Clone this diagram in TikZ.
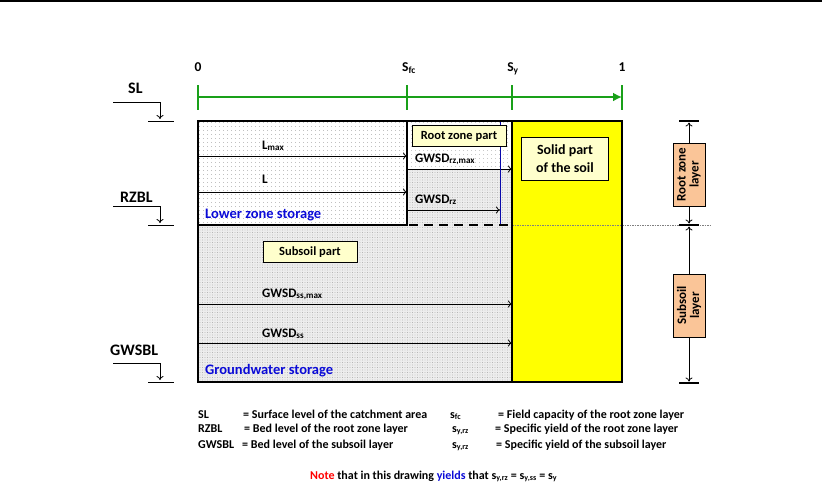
\documentclass[tikz,border=0pt]{standalone}
\usepackage{fontspec}
\setmainfont{Carlito}
\usetikzlibrary{arrows.meta,patterns.meta}
\definecolor{axisgreen}{RGB}{25,160,25}
\definecolor{tagyellow}{RGB}{255,255,204}
\definecolor{soilyellow}{RGB}{255,255,0}
\definecolor{layertan}{RGB}{250,197,152}
\definecolor{storeblue}{RGB}{10,10,215}
\begin{document}
\begin{tikzpicture}[x=1pt,y=-1pt,
  every node/.style={font=\bfseries\fontsize{12}{14}\selectfont},
  tag/.style={draw,fill=tagyellow,inner sep=3pt,align=center,font=\bfseries\fontsize{12.5}{15}\selectfont},
  layerbox/.style={draw,fill=layertan,rotate=90,align=center,minimum width=63pt,minimum height=32pt,inner sep=1pt,font=\bfseries\fontsize{13}{13}\selectfont},
  level/.style={anchor=base west,inner sep=0pt,font=\bfseries\fontsize{16}{18}\selectfont},
  store/.style={anchor=base west,inner sep=0pt,text=storeblue,font=\bfseries\fontsize{14.5}{16}\selectfont},
  flowlabel/.style={anchor=base west,inner sep=0pt,font=\bfseries\fontsize{13}{15}\selectfont},
  legend/.style={anchor=base west,inner sep=0pt},
  flow/.style={-{To[length=4pt,width=7pt]},line width=0.8pt},
  axis/.style={axisgreen,line width=2.4pt},
  drop/.style={-{To[length=4pt,width=7pt]},line width=0.8pt},
  bar/.style={line width=2.5pt},
  wall/.style={line width=2.6pt}]
\useasboundingbox (0,0) rectangle (822,490);
\draw[line width=1.5pt] (0,1) -- (822,1);

% fills
\fill[pattern={Dots[distance=4pt,radius=0.45pt]},pattern color=gray] (198,121) rectangle (407,225);
\fill[pattern={Dots[distance=4pt,radius=0.45pt]},pattern color=gray] (407,121) rectangle (512,169);
\fill[gray!14] (407,169) rectangle (512,225);
\fill[pattern={Dots[distance=2.5pt,radius=0.45pt]},pattern color=gray!80] (407,169) rectangle (512,225);
\fill[gray!14] (198,225) rectangle (512,382);
\fill[pattern={Dots[distance=2.5pt,radius=0.45pt]},pattern color=gray!80] (198,225) rectangle (512,382);
\fill[soilyellow] (512,121) rectangle (622,382);

% axis
\coordinate (a0) at (198,97);
\coordinate (afc) at (407,97);
\coordinate (ay) at (512,97);
\coordinate (a1) at (622,97);
\draw[axis,-{Latex[length=9pt,width=9pt]}] (a0) -- (a1);
\foreach \p in {a0,afc,ay,a1}
  \draw[axis] ([yshift=-12.5pt]\p) -- ([yshift=12.5pt]\p);
\node[anchor=base,font=\bfseries\fontsize{13.5}{15}\selectfont] (lab0) at (198,71) {0};
\node[anchor=base,font=\bfseries\fontsize{13.5}{15}\selectfont] (labfc) at (409,71) {S\textsubscript{fc}};
\node[anchor=base,font=\bfseries\fontsize{13.5}{15}\selectfont] (laby) at (513,71) {S\textsubscript{y}};
\node[anchor=base,font=\bfseries\fontsize{13.5}{15}\selectfont] (lab1) at (622,71) {1};

% flows
\coordinate (lmaxA) at (198,156);
\coordinate (lmaxB) at (407,156);
\coordinate (lA) at (198,192);
\coordinate (lB) at (407,192);
\coordinate (rzmaxA) at (407,169);
\coordinate (rzmaxB) at (512,169);
\coordinate (rzA) at (407,210);
\coordinate (rzB) at (500,210);
\coordinate (ssmaxA) at (198,304);
\coordinate (ssmaxB) at (512,304);
\coordinate (ssA) at (198,343);
\coordinate (ssB) at (512,343);
\draw[flow] (lmaxA) -- (lmaxB);
\draw[flow] (lA) -- (lB);
\draw[flow] (rzmaxA) -- (rzmaxB);
\draw[flow] (rzA) -- (rzB);
\draw[flow] (ssmaxA) -- (ssmaxB);
\draw[flow] (ssA) -- (ssB);
\node[flowlabel] (lmax) at (262,149) {L\textsubscript{max}};
\node[flowlabel] (l) at (262,183) {L};
\node[flowlabel] (gwsdrzmax) at (415,162) {GWSD\textsubscript{rz,max}};
\node[flowlabel] (gwsdrz) at (415,203) {GWSD\textsubscript{rz}};
\node[flowlabel] (gwsdssmax) at (262,297) {GWSD\textsubscript{ss,max}};
\node[flowlabel] (gwsdss) at (262,337) {GWSD\textsubscript{ss}};

% walls
\draw[storeblue!80!black,line width=0.8pt] (500,121) -- (500,225);
\draw[gray,line width=0.5pt,dash pattern=on 1.5pt off 1pt] (512,225) -- (710,225);
\draw[wall] (198,121) rectangle (622,382);
\draw[wall] (512,121) -- (512,382);
\draw[wall] (198,225) -- (407,225) -- (407,121);
\draw[wall,dash pattern=on 9pt off 6pt] (409,225) -- (512,225);

% tags
\node[tag,minimum width=94pt,minimum height=21pt] (rootpart) at (459,136) {Root zone part};
\node[tag,minimum width=87pt,minimum height=43pt,font=\bfseries\fontsize{14}{18}\selectfont] (solid) at (565,159) {Solid part\\of the soil};
\node[tag,minimum width=94pt,minimum height=21pt] (subpart) at (310,252) {Subsoil part};
\node[store] (lowstore) at (205,218) {Lower zone storage};
\node[store] (gwstore) at (205,374) {Groundwater storage};

% levels on the left
\node[level] (sl) at (128,93) {SL};
\node[level] (rzbl) at (120,202) {RZBL};
\node[level] (gwsbl) at (110,355) {GWSBL};
\foreach \y/\n in {102/slx,206/rzblx,363/gwsblx}
  \coordinate (\n) at (113,\y);
\foreach \y/\n in {121/slb,225/rzblb,382/gwsblb}
  \coordinate (\n) at (160,\y);
\draw[drop] (slx) -| ([yshift=2pt]slb);
\draw[drop] (rzblx) -| ([yshift=2pt]rzblb);
\draw[drop] (gwsblx) -| ([yshift=2pt]gwsblb);
\foreach \n in {slb,rzblb,gwsblb}
  \draw[line width=1pt] ([xshift=-12pt]\n) -- ([xshift=14pt]\n);

% layers on the right
\coordinate (rztop) at (689,121);
\coordinate (rzbot) at (689,225);
\coordinate (ssbot) at (689,383);
\foreach \n in {rztop,rzbot,ssbot}
  \draw[bar] ([xshift=-10pt]\n) -- ([xshift=10pt]\n);
\node[layerbox] (rzlayer) at (689,174.5) {Root zone\\layer};
\node[layerbox] (sslayer) at (689,305.5) {Subsoil\\layer};
\draw[drop] (rzlayer) -- ([yshift=-1.5pt]rztop);
\draw[drop] (rzlayer) -- ([yshift=1.5pt]rzbot);
\draw[drop] (sslayer) -- ([yshift=-1.5pt]rzbot);
\draw[drop] (sslayer) -- ([yshift=1.5pt]ssbot);

% legend
\node[legend] (k1) at (198,418) {SL};
\node[legend] (v1) at (243,418) {= Surface level of the catchment area};
\node[legend] (k2) at (198,432) {RZBL};
\node[legend] (v2) at (244,432) {= Bed level of the root zone layer};
\node[legend] (k3) at (198,448) {GWSBL};
\node[legend] (v3) at (242,448) {= Bed level of the subsoil layer};
\node[legend] (k4) at (450,418) {s\textsubscript{fc}};
\node[legend] (v4) at (498,418) {= Field capacity of the root zone layer};
\node[legend] (k5) at (452,432) {s\textsubscript{y,rz}};
\node[legend] (v5) at (495,432) {= Specific yield of the root zone layer};
\node[legend] (k6) at (452,448) {s\textsubscript{y,rz}};
\node[legend] (v6) at (496,448) {= Specific yield of the subsoil layer};
\node[legend] (note) at (310,479) {\textcolor{red}{Note} that in this drawing \textcolor{storeblue}{yields} that s\textsubscript{y,rz} = s\textsubscript{y,ss} = s\textsubscript{y}};
\end{tikzpicture}
\end{document}
